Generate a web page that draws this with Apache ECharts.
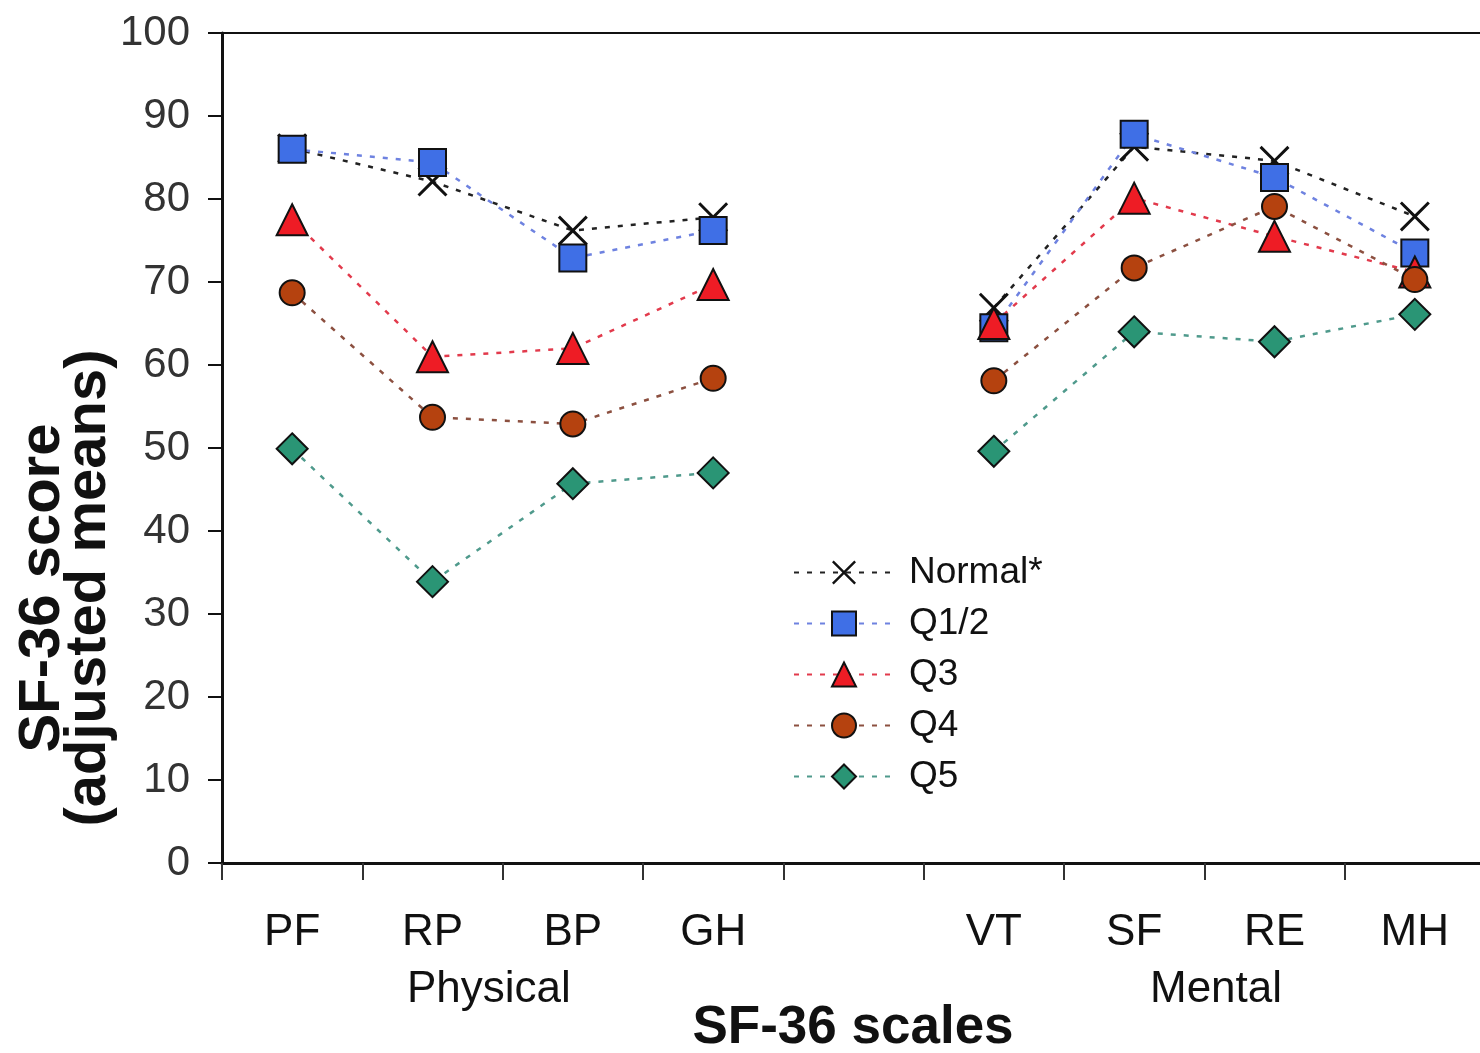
<!DOCTYPE html>
<html>
<head>
<meta charset="utf-8">
<script src="https://cdn.jsdelivr.net/npm/echarts@6/dist/echarts.min.js"></script>
<style>
  html, body { margin: 0; padding: 0; background: #fff; overflow: hidden; }
  /* the plot box runs a little past the right edge of the window */
  #chart { width: 1485px; height: 1053px; }
</style>
</head>
<body>
<div id="chart"></div>
<script>
// SF-36 scales, blank slot separates physical and mental groups
const categories = ['PF', 'RP', 'BP', 'GH', '', 'VT', 'SF', 'RE', 'MH'];
const seriesNames = ['Normal*', 'Q1/2', 'Q3', 'Q4', 'Q5'];
const normalVals = [86.1, 82.1, 76.2, 77.8, null, 66.9, 86.3, 84.6, 77.9];
const q12Vals = [86.0, 84.4, 72.9, 76.2, null, 64.5, 87.8, 82.6, 73.5];
const q3Vals = [77.5, 61.0, 62.0, 69.7, null, 65.0, 80.1, 75.5, 71.2];
const q4Vals = [68.7, 53.7, 52.9, 58.4, null, 58.1, 71.7, 79.1, 70.3];
const q5Vals = [49.9, 33.9, 45.7, 47.0, null, 49.6, 64.0, 62.8, 66.1];
const groupLabels = ['Physical', 'Mental'];

const font = '"Liberation Sans", Arial, sans-serif';
const crossPath = 'path://M0.7,0 L5,4.3 L9.3,0 L10,0.7 L5.7,5 L10,9.3 L9.3,10 L5,5.7 L0.7,10 L0,9.3 L4.3,5 L0,0.7 Z';

function makeSeries(name, data, symbol, size, fill, lineColor) {
    return {
        name: name,
        type: 'line',
        data: data,
        symbol: symbol,
        symbolSize: size,
        connectNulls: false,
        lineStyle: { color: lineColor, width: 2.5, type: [5, 8] },
        itemStyle: {
            color: fill,
            borderColor: '#111',
            borderWidth: symbol === crossPath ? 0 : 2
        },
        emphasis: { disabled: true }
    };
}

const chart = echarts.init(document.getElementById('chart'));
chart.setOption({
    animation: false,
    backgroundColor: '#fff',
    grid: {
        left: 222,
        right: 0,
        top: 33,
        bottom: 190,
        show: true,
        borderColor: '#111',
        borderWidth: 2
    },
    legend: {
        orient: 'vertical',
        left: 788,
        top: 549,
        itemWidth: 100,
        itemHeight: 30,
        itemGap: 14,
        data: seriesNames,
        textStyle: {
            fontFamily: font,
            fontSize: 37,
            color: '#111',
            padding: [0, 0, 0, 10]
        }
    },
    xAxis: {
        type: 'category',
        data: categories,
        boundaryGap: true,
        axisLine: { lineStyle: { color: '#111', width: 3 } },
        axisTick: { show: true, interval: 0, length: 17, lineStyle: { color: '#333', width: 2 } },
        axisLabel: {
            interval: 0,
            margin: 48,
            fontFamily: font,
            fontSize: 44,
            color: '#111'
        },
        splitLine: { show: false }
    },
    yAxis: {
        type: 'value',
        min: 0,
        max: 100,
        interval: 10,
        axisLine: { show: true, lineStyle: { color: '#111', width: 3 } },
        axisTick: { show: true, length: 14, lineStyle: { color: '#111', width: 2 } },
        axisLabel: {
            margin: 32,
            fontFamily: font,
            fontSize: 42,
            color: '#333'
        },
        splitLine: { show: false }
    },
    graphic: [
        {
            type: 'text', left: 407, top: 968,
            style: { text: groupLabels[0], font: '44px ' + font, fill: '#111' }
        },
        {
            type: 'text', left: 1150, top: 968,
            style: { text: groupLabels[1], font: '44px ' + font, fill: '#111' }
        },
        {
            type: 'text', x: 853, y: 1028,
            style: {
                text: 'SF-36 scales', font: 'bold 53px ' + font, fill: '#111',
                align: 'center', verticalAlign: 'middle'
            }
        },
        {
            type: 'text', x: 66, y: 588, rotation: Math.PI / 2,
            style: {
                text: 'SF-36 score\n(adjusted means)', font: 'bold 58px ' + font, fill: '#111',
                align: 'center', verticalAlign: 'middle', lineHeight: 46
            }
        }
    ],
    series: [
        makeSeries(seriesNames[0], normalVals, crossPath, 30, '#111', '#222'),
        makeSeries(seriesNames[1], q12Vals, 'rect', 27, '#3f6fe6', '#6e82e0'),
        makeSeries(seriesNames[2], q3Vals, 'triangle', 31, '#ee1c25', '#e23a4c'),
        makeSeries(seriesNames[3], q4Vals, 'circle', 25, '#b5420f', '#8c5040'),
        makeSeries(seriesNames[4], q5Vals, 'diamond', 31, '#2a9575', '#4f9a8c')
    ]
});
</script>
</body>
</html>
